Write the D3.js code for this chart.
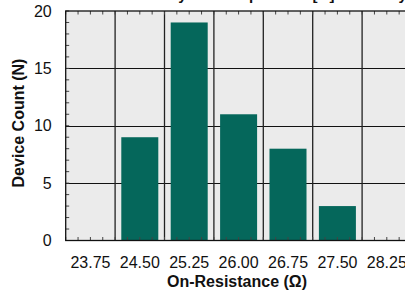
<!DOCTYPE html>
<html><head><meta charset="utf-8">
<script src="https://cdn.jsdelivr.net/npm/d3@7"></script>
<style>body{margin:0;background:#fff}svg{display:block}text{font-family:"Liberation Sans",Arial,sans-serif}</style>
</head><body><svg id="c" width="405" height="293"></svg>
<script>
const categories = ["23.75","24.50","25.25","26.00","26.75","27.50","28.25"];
const counts = [0, 9, 19, 11, 8, 3, 0];
const yTicks = [0, 5, 10, 15, 20];
const titleText = "Device Count by Lot: Output Res. [Ω] Summary";

const svg = d3.select("#c");
const L = 65.7, T = 11, B = 240.5, bw = 49.4;
const R = L + bw * categories.length;
const x = d3.scaleBand().domain(categories).range([L, R]).padding(0);
const y = d3.scaleLinear().domain([0, 20]).range([B, T]);
const FONT = "Liberation Sans, Arial, sans-serif";

svg.append("rect").attr("x", L).attr("y", T).attr("width", R - L).attr("height", B - T).attr("fill", "#ebebeb");

// grid
svg.append("g").selectAll("line").data(yTicks.slice(1, -1)).join("line")
  .attr("x1", L).attr("x2", R).attr("y1", d => Math.round(y(d)) + 0.5).attr("y2", d => Math.round(y(d)) + 0.5)
  .attr("stroke", "#111").attr("stroke-width", 1.2);
svg.append("g").selectAll("line").data(categories.slice(1)).join("line")
  .attr("x1", d => x(d)).attr("x2", d => x(d)).attr("y1", T).attr("y2", B)
  .attr("stroke", "#222").attr("stroke-width", 1.3);

// bars
const inset = 6.2;
svg.append("g").selectAll("rect").data(categories.map((c, i) => ({c, v: counts[i]})).filter(d => d.v > 0)).join("rect")
  .attr("x", d => x(d.c) + inset).attr("width", x.bandwidth() - 2 * inset)
  .attr("y", d => y(d.v)).attr("height", d => B - y(d.v)).attr("fill", "#05675b");

// minor ticks
const minorY = d3.range(0, 21, 1);
svg.append("g").selectAll("line").data(minorY).join("line")
  .attr("x1", L).attr("x2", L + 3.5).attr("y1", d => y(d)).attr("y2", d => y(d))
  .attr("stroke", "#444").attr("stroke-width", 1);
const minorX = d3.range(0, categories.length * 4 + 1).map(i => L + i * bw / 4);
const gx = svg.append("g");
gx.selectAll("line.b").data(minorX).join("line").attr("class", "b")
  .attr("x1", d => d).attr("x2", d => d).attr("y1", B).attr("y2", B - 3.5).attr("stroke", "#444");
gx.selectAll("line.t").data(minorX).join("line").attr("class", "t")
  .attr("x1", d => d).attr("x2", d => d).attr("y1", T).attr("y2", T + 3.5).attr("stroke", "#444");

// frame
svg.append("rect").attr("x", L).attr("y", T).attr("width", R - L).attr("height", B - T)
  .attr("fill", "none").attr("stroke", "#111").attr("stroke-width", 1.3);

// axes labels
const ya = svg.append("g").attr("transform", `translate(${L},0)`)
  .call(d3.axisLeft(y).tickValues(yTicks).tickSize(0).tickPadding(14));
ya.select(".domain").remove();
ya.selectAll("text").attr("font-size", 16).attr("fill", "#111").attr("font-family", FONT);

const xa = svg.append("g").attr("transform", `translate(0,${B})`)
  .call(d3.axisBottom(x).tickSize(0).tickPadding(16));
xa.select(".domain").remove();
xa.selectAll("text").attr("font-size", 16).attr("fill", "#111").attr("font-family", FONT);

svg.append("text").attr("x", 237).attr("y", 287).attr("text-anchor", "middle")
  .attr("font-size", 16).attr("font-weight", "bold").attr("fill", "#111").text("On-Resistance (Ω)");
svg.append("text").attr("transform", "translate(24,123) rotate(-90)").attr("text-anchor", "middle")
  .attr("font-size", 16).attr("font-weight", "bold").attr("fill", "#111").text("Device Count (N)");

svg.append("text").attr("x", 238).attr("y", -0.5).attr("text-anchor", "middle")
  .attr("font-size", 15).attr("font-weight", "bold").attr("fill", "#111").text(titleText);
</script></body></html>
